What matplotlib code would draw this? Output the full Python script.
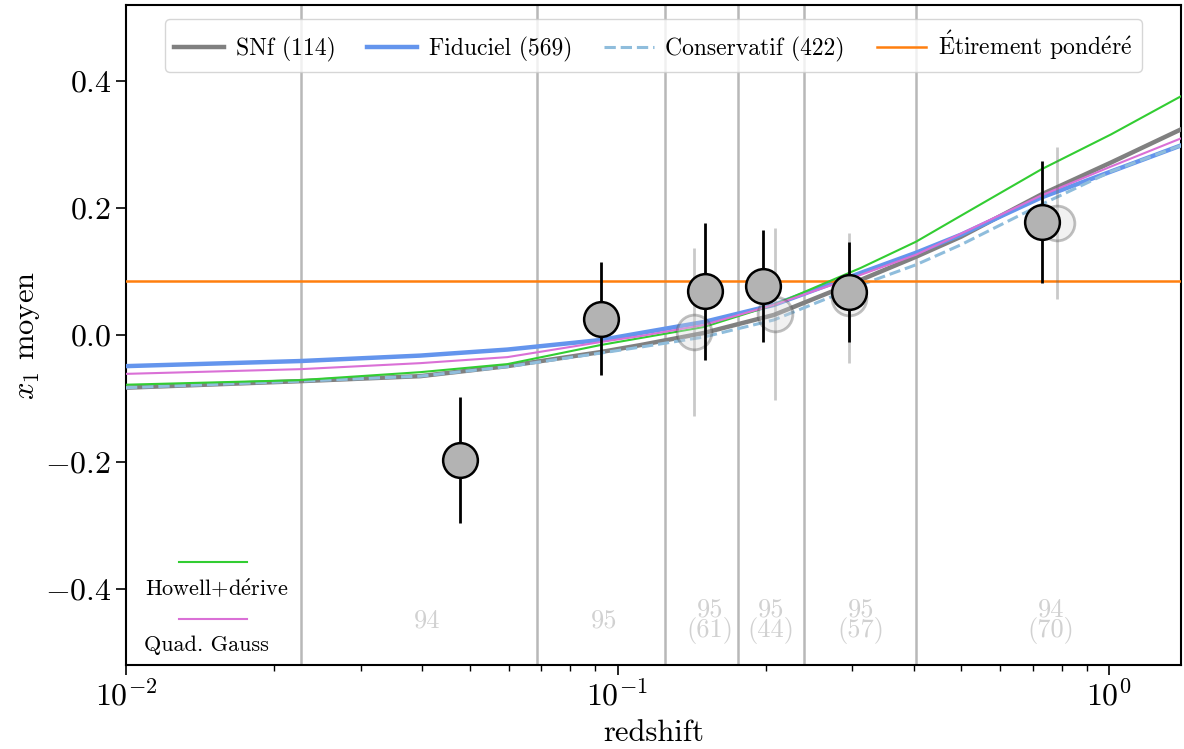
import matplotlib
matplotlib.use("Agg")
import matplotlib.pyplot as plt

plt.rcParams['font.family'] = ['cmr10', 'DejaVu Serif']
plt.rcParams['mathtext.fontset'] = 'cm'
plt.rcParams['axes.formatter.use_mathtext'] = True
plt.rcParams['axes.unicode_minus'] = True

# redshift grid
z_curve = [0.01, 0.0226, 0.0397, 0.0597, 0.0923, 0.1114, 0.1497, 0.2078, 0.3126, 0.4045, 0.4995, 0.727, 1.009, 1.4]
snf = [-0.0830, -0.0727, -0.0648, -0.0490, -0.0269, -0.0158, 0.0032, 0.0316, 0.0870, 0.1233, 0.1549, 0.2213, 0.2719, 0.3241]
fiduciel = [-0.0490, -0.0410, -0.0324, -0.0229, -0.0079, 0.0032, 0.0205, 0.0474, 0.0980, 0.1296, 0.1581, 0.2166, 0.2577, 0.2988]
conservatif = [-0.0830, -0.0727, -0.0648, -0.0498, -0.0285, -0.0190, -0.0032, 0.0237, 0.0791, 0.1107, 0.1423, 0.2055, 0.2577, 0.2988]
howell = [-0.0783, -0.0711, -0.0585, -0.0458, -0.0158, -0.0047, 0.0126, 0.0474, 0.1059, 0.1470, 0.1881, 0.2609, 0.3162, 0.3763]
quad_gauss = [-0.0612, -0.0538, -0.0443, -0.0348, -0.0111, -0.0016, 0.0158, 0.0474, 0.0949, 0.1265, 0.1597, 0.2198, 0.2656, 0.3099]
etirement = 0.085

# binned means (fiducial and conservative samples)
z_fid = [0.0479, 0.0924, 0.1504, 0.1974, 0.2955, 0.730]
x1_fid = [-0.197, 0.026, 0.069, 0.077, 0.068, 0.178]
err_fid = [0.099, 0.089, 0.108, 0.088, 0.079, 0.096]
z_cons = [0.1428, 0.2089, 0.2955, 0.783]
x1_cons = [0.005, 0.033, 0.058, 0.177]
err_cons = [0.132, 0.135, 0.102, 0.120]

bin_edges = [0.0227, 0.0684, 0.1246, 0.1756, 0.2392, 0.4045]
label_z = [0.0410, 0.0937, 0.154, 0.2049, 0.3126, 0.762]
label_txt = ['94', '95', '95\n(61)', '95\n(44)', '95\n(57)', '94\n(70)']

e_acc = r'$\acute{\mathrm{e}}$'

fig = plt.figure(figsize=(11.84, 7.49), dpi=100)
ax = fig.add_axes([0.1064, 0.1121, 0.8911, 0.8812])

for e in bin_edges:
    ax.axvline(e, color='0.72', lw=1.8, zorder=1)

ax.plot(z_curve, snf, color='grey', lw=3.2, label='SNf (114)', zorder=3)
ax.plot(z_curve, fiduciel, color='cornflowerblue', lw=3.2, label='Fiduciel (569)', zorder=3)
ax.plot(z_curve, conservatif, color='#8fbddc', lw=2.2, ls='--', label='Conservatif (422)', zorder=3)
ax.axhline(etirement, color='#ff7f0e', lw=1.8,
           label=r'$\acute{\mathrm{E}}$tirement pond' + e_acc + 'r' + e_acc, zorder=3)
ax.plot(z_curve, howell, color='limegreen', lw=1.5, zorder=3)
ax.plot(z_curve, quad_gauss, color='orchid', lw=1.5, zorder=3)

ax.errorbar(z_cons, x1_cons, yerr=err_cons, fmt='o', ms=25, mfc='0.85', mec='0.3',
            mew=2, ecolor='0.4', elinewidth=2, alpha=0.35, zorder=4)
ax.errorbar(z_fid, x1_fid, yerr=err_fid, fmt='o', ms=25, mfc='0.7', mec='k',
            mew=1.8, ecolor='k', elinewidth=2, zorder=5)

for zz, t in zip(label_z, label_txt):
    ax.text(zz, 0.0667, t, transform=ax.get_xaxis_transform(), ha='center', va='center',
            color='0.82', fontsize=19, linespacing=0.8, multialignment='center')

# second legend: handle above label
ax.plot([0.0502, 0.1147], [0.156, 0.156], transform=ax.transAxes, color='limegreen', lw=1.5)
ax.text(0.0863, 0.1167, 'Howell+d' + e_acc + 'rive', transform=ax.transAxes,
        ha='center', va='center', fontsize=16)
ax.plot([0.0502, 0.1147], [0.0697, 0.0697], transform=ax.transAxes, color='orchid', lw=1.5)
ax.text(0.0760, 0.0303, 'Quad. Gauss', transform=ax.transAxes, ha='center', va='center', fontsize=16)

ax.set_xscale('log')
ax.set_xlim(0.01, 1.4)
ax.set_ylim(-0.52, 0.52)
ax.set_yticks([-0.4, -0.2, 0.0, 0.2, 0.4])
ax.tick_params(which='major', labelsize=23, length=7, width=1.2, direction='out')
ax.tick_params(which='minor', length=4, width=1, direction='out')
for s in ax.spines.values():
    s.set_linewidth(1.5)
ax.set_xlabel('redshift', fontsize=22, labelpad=6)
ax.set_ylabel('$x_1$ moyen', fontsize=22, labelpad=2)

ax.legend(loc='upper center', ncol=4, fontsize=17, handlelength=2.1, handletextpad=0.5,
          columnspacing=1.35, borderaxespad=0.6, framealpha=0.8)

fig.savefig('out.png', dpi=100)
